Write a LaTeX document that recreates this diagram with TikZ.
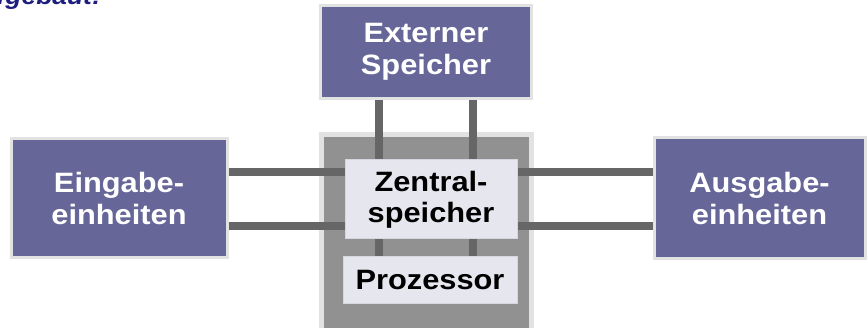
\documentclass[tikz,border=0pt]{standalone}
\usepackage{fontspec}
\setmainfont{Liberation Sans}[FakeStretch=1.1]
\begin{document}
\begin{tikzpicture}[x=1pt,y=-1pt,
  unit/.style={draw=rimgray,line width=3pt,fill=unitpurple,text=white,
    font=\fontsize{28}{32}\selectfont\bfseries,align=center,inner sep=0pt},
  core/.style={draw=corerim,line width=1pt,fill=corefill,text=black,
    font=\fontsize{28}{31}\selectfont\bfseries,align=center,inner sep=0pt},
  bus/.style={draw=busgray,line width=8pt}]
\definecolor{unitpurple}{HTML}{666699}
\definecolor{rimgray}{HTML}{E2E2E2}
\definecolor{busgray}{HTML}{666666}
\definecolor{cpugray}{HTML}{919191}
\definecolor{corefill}{HTML}{E6E6EE}
\definecolor{corerim}{HTML}{D6D6DE}
\definecolor{titleblue}{HTML}{1E1E82}
\useasboundingbox (0,0) rectangle (868,328);
\clip (0,0) rectangle (868,328);

% heading line, cut by the top edge
\node[anchor=base east,inner sep=0pt,text=titleblue,
  font=\fontsize{24}{28}\selectfont\bfseries\itshape] (title) at (101,5) {aufgebaut:};

% central unit housing
\node[draw=rimgray,line width=5pt,fill=cpugray,minimum width=210pt,
  minimum height=212pt,inner sep=0pt] (cpu) at (426.5,241) {};

% peripheral units
\node[unit,minimum width=211pt,minimum height=93pt] (ext) at (426,52) {Externer\\Speicher};
\node[unit,minimum width=216pt,minimum height=119pt] (ein) at (119,198) {Eingabe-\\einheiten};
\node[unit,minimum width=211pt,minimum height=121pt] (aus) at (759.5,198) {Ausgabe-\\einheiten};

% inner blocks (placed as coordinates first so the buses run behind them)
\coordinate (zsc) at (431,199.5);
\coordinate (prc) at (430,280.5);
\path (zsc) node[minimum width=172pt,minimum height=79pt,inner sep=0pt] (zsbox) {};
\path (prc) node[minimum width=174pt,minimum height=47pt,inner sep=0pt] (prbox) {};

% buses
\draw[bus] (ein.east |- {(0,172)}) -- (zsbox.west |- {(0,172)});
\draw[bus] (ein.east |- {(0,226.5)}) -- (zsbox.west |- {(0,226.5)});
\draw[bus] (zsbox.east |- {(0,172)}) -- (aus.west |- {(0,172)});
\draw[bus] (zsbox.east |- {(0,226.5)}) -- (aus.west |- {(0,226.5)});
\draw[bus] (ext.south -| {(379,0)}) -- (prbox.north -| {(379,0)});
\draw[bus] (ext.south -| {(473,0)}) -- (prbox.north -| {(473,0)});

% memory and processor
\node[core,minimum width=172pt,minimum height=79pt] (zs) at (zsc) {Zentral-\\speicher};
\node[core,minimum width=174pt,minimum height=47pt] (proz) at (prc) {Prozessor};
\end{tikzpicture}
\end{document}
